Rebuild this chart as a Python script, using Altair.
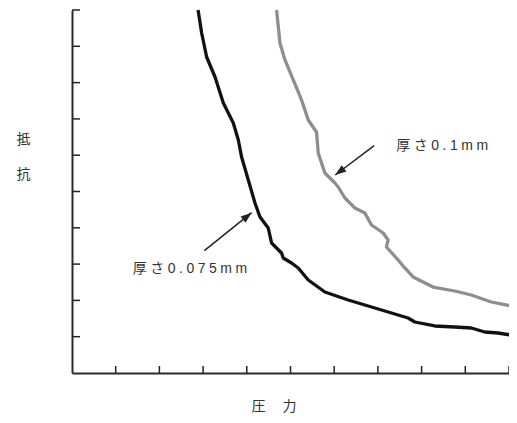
import altair as alt
import pandas as pd

# ---- data ----
thin_x = [2.885, 2.967, 3.081, 3.273, 3.463, 3.691, 3.806, 3.881, 4.034, 4.187, 4.302,
          4.491, 4.567, 4.795, 4.834, 5.024, 5.177, 5.406, 5.787, 6.320, 6.702, 7.463,
          7.691, 7.845, 8.302, 8.759, 9.138, 9.445, 9.749, 10.039]
thin_y = [10.0, 9.366, 8.705, 8.154, 7.438, 6.887, 6.419, 5.950, 5.317, 4.683, 4.298,
          3.994, 3.581, 3.306, 3.168, 3.030, 2.893, 2.562, 2.231, 2.011, 1.873, 1.598,
          1.515, 1.405, 1.295, 1.267, 1.240, 1.129, 1.102, 1.047]

thick_x = [4.681, 4.759, 4.873, 5.063, 5.253, 5.406, 5.595, 5.634, 5.787, 6.016, 6.091,
           6.245, 6.473, 6.702, 6.853, 7.120, 7.234, 7.195, 7.463, 7.616, 7.806, 8.263,
           8.759, 9.138, 9.595, 10.053]
thick_y = [10.0, 9.091, 8.623, 8.072, 7.521, 6.970, 6.639, 6.061, 5.510, 5.234, 5.124,
           4.821, 4.545, 4.408, 4.077, 3.857, 3.664, 3.471, 3.113, 2.893, 2.645, 2.369,
           2.259, 2.149, 1.956, 1.846]

series_names = ["0.075mm", "0.1mm"]
series_colors = ["#111111", "#8e8e8e"]

x_ticks = [1, 2, 3, 4, 5, 6, 7, 8, 9, 10]
y_ticks = [1, 2, 3, 4, 5, 6, 7, 8, 9, 10]

sp = "\u2005"
label_texts = [sp.join("厚さ0.1mm"), sp.join("厚さ0.075mm")]
label_x = [7.42, 1.39]
label_y = [6.253, 2.865]

arrow_tail_x = [6.914, 3.029]
arrow_tail_y = [6.262, 3.369]
arrow_tip_x = [6.023, 4.110]
arrow_tip_y = [5.455, 4.416]
arrow_angle = [233.3, 51.2]

x_title = "圧　 力"
y_title = ["抵", "抗"]

W, H = 437, 363
FONT = "Liberation Sans, Noto Sans CJK JP, sans-serif"
CJK = "Noto Sans CJK JP"

rows = []
for i, (x, y) in enumerate(zip(thin_x, thin_y)):
    rows.append({"x": x, "y": y, "s": series_names[0], "i": i})
for i, (x, y) in enumerate(zip(thick_x, thick_y)):
    rows.append({"x": x, "y": y, "s": series_names[1], "i": i})
df = pd.DataFrame(rows)

xs = alt.Scale(domain=[0, 10], nice=False, zero=False)
ys = alt.Scale(domain=[0, 10], nice=False, zero=False)

x_axis = alt.Axis(
    domain=True, domainColor="#2a2a2a", domainWidth=2, ticks=False, labels=False,
    grid=False, title=x_title, titleFont=CJK, titleFontSize=14, titleFontWeight="normal",
    titleColor="#333333", titleX=201.5, titleY=33, titleAlign="center",
    titleBaseline="middle", titleAngle=0)
y_axis = alt.Axis(
    domain=True, domainColor="#2a2a2a", domainWidth=2, ticks=False, labels=False,
    grid=False, title=y_title, titleFont=CJK, titleFontSize=14, titleFontWeight="normal",
    titleColor="#333333", titleX=-49, titleY=129, titleAlign="center",
    titleBaseline="middle", titleAngle=0, titleLineHeight=35)

lines = alt.Chart(df).mark_line(strokeWidth=3.3, strokeJoin="round", clip=False).encode(
    x=alt.X("x:Q", scale=xs, axis=x_axis),
    y=alt.Y("y:Q", scale=ys, axis=y_axis),
    color=alt.Color("s:N", scale=alt.Scale(domain=series_names, range=series_colors), legend=None),
    order=alt.Order("i:Q"),
)

yt = alt.Chart(pd.DataFrame({"y": y_ticks})).mark_rule(color="#222222", strokeWidth=1.5).encode(
    y=alt.Y("y:Q", scale=ys, axis=y_axis), x=alt.value(0), x2=alt.value(8))
xt = alt.Chart(pd.DataFrame({"x": x_ticks})).mark_rule(color="#222222", strokeWidth=1.5).encode(
    x=alt.X("x:Q", scale=xs, axis=x_axis), y=alt.value(H), y2=alt.value(H - 7))

lab = alt.Chart(pd.DataFrame({"x": label_x, "y": label_y, "t": label_texts})).mark_text(
    align="left", baseline="middle", font=FONT, fontSize=14, color="#333333").encode(
    x=alt.X("x:Q", scale=xs, axis=x_axis), y=alt.Y("y:Q", scale=ys, axis=y_axis), text="t:N")

adf = pd.DataFrame({"x": arrow_tail_x, "y": arrow_tail_y, "x2": arrow_tip_x,
                    "y2": arrow_tip_y, "a": arrow_angle})
arr = alt.Chart(adf).mark_rule(color="#222222", strokeWidth=1.5).encode(
    x=alt.X("x:Q", scale=xs, axis=x_axis), y=alt.Y("y:Q", scale=ys, axis=y_axis),
    x2="x2:Q", y2="y2:Q")
head = alt.Chart(adf).mark_point(
    shape="M0,0L0.36,1L-0.36,1Z", filled=True, size=484, color="#222222",
    strokeWidth=0, opacity=1).encode(
    x=alt.X("x2:Q", scale=xs, axis=x_axis), y=alt.Y("y2:Q", scale=ys, axis=y_axis),
    angle=alt.Angle("a:Q", scale=None))

chart = alt.layer(lines, yt, xt, arr, head, lab).properties(
    width=W, height=H,
    autosize=alt.AutoSizeParams(type="none"),
    padding={"left": 64, "top": 2, "right": 0, "bottom": 42},
).configure_view(stroke=None)

chart.save("out.html", embed_options={"renderer": "svg", "actions": False})
